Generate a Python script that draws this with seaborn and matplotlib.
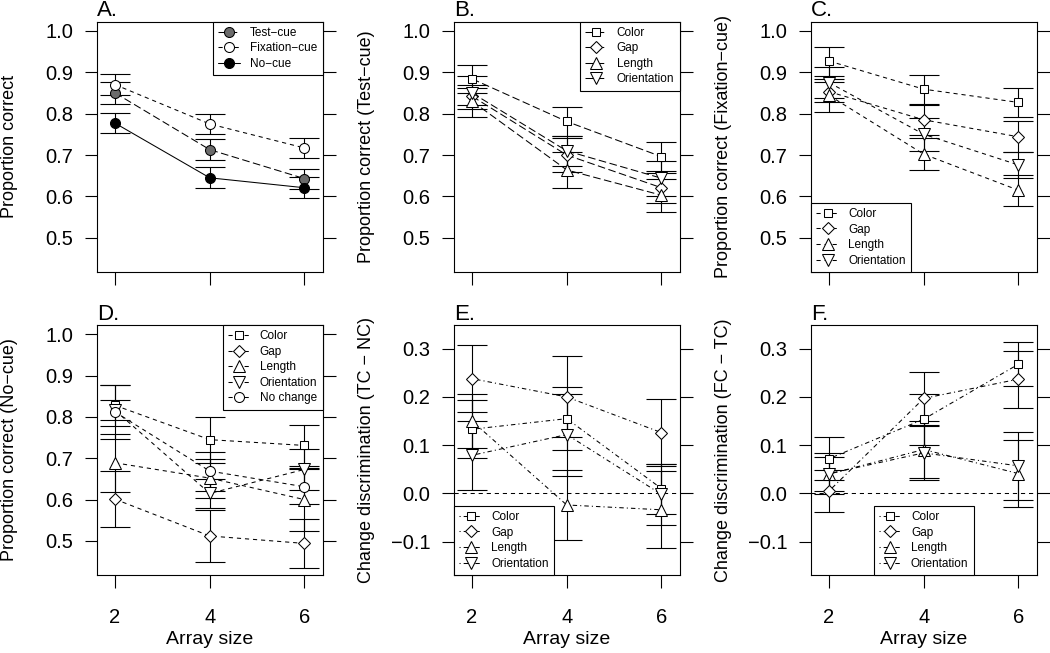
import numpy as np
import pandas as pd
import matplotlib
matplotlib.use("Agg")
import matplotlib.pyplot as plt
import seaborn as sns

# ---------------- data ----------------
array_size = [2, 4, 6]

# Panel A
a_labels = ["Test\u2212cue", "Fixation\u2212cue", "No\u2212cue"]
a_test = [0.850, 0.713, 0.643]
a_test_se = [0.026, 0.026, 0.024]
a_fix = [0.870, 0.775, 0.717]
a_fix_se = [0.026, 0.024, 0.025]
a_nocue = [0.777, 0.645, 0.621]
a_nocue_se = [0.025, 0.025, 0.025]

feat_labels = ["Color", "Gap", "Length", "Orientation"]

# Panel B (Test-cue)
b_color = [0.884, 0.781, 0.696]
b_color_se = [0.034, 0.036, 0.035]
b_gap = [0.842, 0.700, 0.621]
b_gap_se = [0.020, 0.040, 0.036]
b_length = [0.830, 0.664, 0.603]
b_length_se = [0.039, 0.043, 0.040]
b_orient = [0.850, 0.710, 0.644]
b_orient_se = [0.040, 0.036, 0.042]

# Panel C (Fixation-cue)
c_color = [0.927, 0.859, 0.827]
c_color_se = [0.035, 0.035, 0.036]
c_gap = [0.853, 0.785, 0.744]
c_gap_se = [0.024, 0.036, 0.037]
c_length = [0.844, 0.702, 0.615]
c_length_se = [0.040, 0.038, 0.038]
c_orient = [0.875, 0.750, 0.676]
c_orient_se = [0.037, 0.040, 0.032]

# Panel D (No-cue)
d_labels = ["Color", "Gap", "Length", "Orientation", "No change"]
d_color = [0.828, 0.745, 0.731]
d_color_se = [0.050, 0.056, 0.050]
d_gap = [0.601, 0.512, 0.494]
d_gap_se = [0.067, 0.062, 0.060]
d_length = [0.689, 0.652, 0.600]
d_length_se = [0.070, 0.047, 0.077]
d_orient = [0.816, 0.615, 0.673]
d_orient_se = [0.024, 0.035, 0.050]
d_nochange = [0.812, 0.669, 0.631]
d_nochange_se = [0.065, 0.047, 0.042]

# Panel E (TC - NC)
e_color = [0.133, 0.155, 0.010]
e_color_se = [0.060, 0.066, 0.052]
e_gap = [0.238, 0.200, 0.126]
e_gap_se = [0.069, 0.084, 0.069]
e_length = [0.150, -0.024, -0.034]
e_length_se = [0.056, 0.073, 0.080]
e_orient = [0.079, 0.122, -0.002]
e_orient_se = [0.071, 0.085, 0.064]

# Panel F (FC - TC)
f_color = [0.072, 0.154, 0.268]
f_color_se = [0.045, 0.053, 0.046]
f_gap = [0.005, 0.197, 0.237]
f_gap_se = [0.043, 0.055, 0.059]
f_length = [0.040, 0.091, 0.041]
f_length_se = [0.035, 0.060, 0.069]
f_orient = [0.041, 0.084, 0.057]
f_orient_se = [0.042, 0.056, 0.071]

ylabels = ["Proportion correct",
           "Proportion correct (Test\u2212cue)",
           "Proportion correct (Fixation\u2212cue)",
           "Proportion correct (No\u2212cue)",
           "Change discrimination (TC \u2212 NC)",
           "Change discrimination (FC \u2212 TC)"]
titles = ["A.", "B.", "C.", "D.", "E.", "F."]
prop_ticks = [0.5, 0.6, 0.7, 0.8, 0.9, 1.0]
diff_ticks = [-0.1, 0.0, 0.1, 0.2, 0.3]

# ---------------- style ----------------
sns.set_theme(style="ticks")
plt.rcParams["font.family"] = ["Liberation Sans", "DejaVu Sans"]
plt.rcParams["lines.scale_dashes"] = False
plt.rcParams["axes.linewidth"] = 0.8
plt.rcParams["text.color"] = "black"
plt.rcParams["axes.labelcolor"] = "black"
plt.rcParams["xtick.color"] = "black"
plt.rcParams["ytick.color"] = "black"
plt.rcParams["axes.edgecolor"] = "black"

LONGDASH = (0, (5.5, 2.5))
SHORTDASH = (0, (3.0, 2.8))
DOTDASH = (0, (0.8, 2.2, 3.2, 2.2))

MK = {"Color": ("s", 6.0), "Gap": ("D", 6.3), "Length": ("^", 8.8),
      "Orientation": ("v", 8.8), "No change": ("o", 7.2)}

W, H = 1050, 653
fig = plt.figure(figsize=(W / 100, H / 100), dpi=100)

lefts = [97, 454, 811]
tops = [21.5, 325]
bottoms = [272, 575]
axw = 225.5


def make_ax(row, col):
    l = lefts[col] / W
    b = (H - bottoms[row]) / H
    h = (bottoms[row] - tops[row]) / H
    return fig.add_axes([l, b, axw / W, h])


def series(ax, y, se, label, marker, ms, ls, mfc="white"):
    ax.errorbar(array_size, y, yerr=se, fmt="none", ecolor="black",
                elinewidth=0.8, capsize=10.5, capthick=0.8, zorder=2)
    df = pd.DataFrame({"x": array_size, "y": y})
    sns.lineplot(data=df, x="x", y="y", ax=ax, color="black", linewidth=0.75,
                 linestyle=ls, marker=marker, markersize=ms,
                 markerfacecolor=mfc, markeredgecolor="black",
                 markeredgewidth=0.75, errorbar=None, label=label, zorder=3)


def finish(ax, idx, ylim, yticks, legend_loc, bottom_row):
    ax.set_xlim(1.62, 6.38)
    ax.set_ylim(*ylim)
    ax.set_xticks(array_size)
    ax.set_yticks(yticks)
    ax.set_yticklabels([f"{t:.1f}".replace("-", "\u2212") for t in yticks])
    ax.tick_params(axis="y", left=True, right=True, labelright=False,
                   direction="out", length=9, width=0.8, labelsize=14.5, pad=8)
    ax.tick_params(axis="x", bottom=True, top=False, direction="out",
                   length=9, width=0.8, labelsize=14.5, pad=15,
                   labelbottom=bottom_row)
    ax.set_ylabel(ylabels[idx], fontsize=13)
    ax.yaxis.set_label_coords(-0.35, 0.5)
    if bottom_row:
        ax.set_xlabel("Array size", fontsize=14)
        ax.xaxis.set_label_coords(0.5, -0.225)
    else:
        ax.set_xlabel("")
    ax.set_title(titles[idx], loc="left", fontsize=16, pad=2)
    for s in ax.spines.values():
        s.set_visible(True)
        s.set_linewidth(0.8)
    leg = ax.legend(loc=legend_loc, fontsize=8.5, frameon=True, fancybox=False,
                    edgecolor="black", framealpha=1, borderaxespad=0,
                    handlelength=1.9, handletextpad=0.8, labelspacing=0.3,
                    borderpad=0.45)
    leg.get_frame().set_linewidth(0.8)


prop_lim = (0.4176, 1.0224)
diff_lim = (-0.1692, 0.3492)

# A
ax = make_ax(0, 0)
series(ax, a_test, a_test_se, a_labels[0], "o", 7.2, LONGDASH, mfc="#6b6b6b")
series(ax, a_fix, a_fix_se, a_labels[1], "o", 7.2, SHORTDASH, mfc="white")
series(ax, a_nocue, a_nocue_se, a_labels[2], "o", 7.2, "-", mfc="black")
finish(ax, 0, prop_lim, prop_ticks, "upper right", False)

# B
ax = make_ax(0, 1)
for lab, y, se in zip(feat_labels, [b_color, b_gap, b_length, b_orient],
                      [b_color_se, b_gap_se, b_length_se, b_orient_se]):
    series(ax, y, se, lab, MK[lab][0], MK[lab][1], LONGDASH)
finish(ax, 1, prop_lim, prop_ticks, "upper right", False)

# C
ax = make_ax(0, 2)
for lab, y, se in zip(feat_labels, [c_color, c_gap, c_length, c_orient],
                      [c_color_se, c_gap_se, c_length_se, c_orient_se]):
    series(ax, y, se, lab, MK[lab][0], MK[lab][1], SHORTDASH)
finish(ax, 2, prop_lim, prop_ticks, "lower left", False)

# D
ax = make_ax(1, 0)
for lab, y, se in zip(d_labels, [d_color, d_gap, d_length, d_orient, d_nochange],
                      [d_color_se, d_gap_se, d_length_se, d_orient_se, d_nochange_se]):
    series(ax, y, se, lab, MK[lab][0], MK[lab][1], SHORTDASH)
finish(ax, 3, prop_lim, prop_ticks, "upper right", True)

# E
ax = make_ax(1, 1)
ax.axhline(0, color="black", linewidth=0.75, linestyle=SHORTDASH, zorder=1)
for lab, y, se in zip(feat_labels, [e_color, e_gap, e_length, e_orient],
                      [e_color_se, e_gap_se, e_length_se, e_orient_se]):
    series(ax, y, se, lab, MK[lab][0], MK[lab][1], DOTDASH)
finish(ax, 4, diff_lim, diff_ticks, "lower left", True)

# F
ax = make_ax(1, 2)
ax.axhline(0, color="black", linewidth=0.75, linestyle=SHORTDASH, zorder=1)
for lab, y, se in zip(feat_labels, [f_color, f_gap, f_length, f_orient],
                      [f_color_se, f_gap_se, f_length_se, f_orient_se]):
    series(ax, y, se, lab, MK[lab][0], MK[lab][1], DOTDASH)
finish(ax, 5, diff_lim, diff_ticks, "lower center", True)

fig.savefig("out.png", dpi=100, facecolor="white")
